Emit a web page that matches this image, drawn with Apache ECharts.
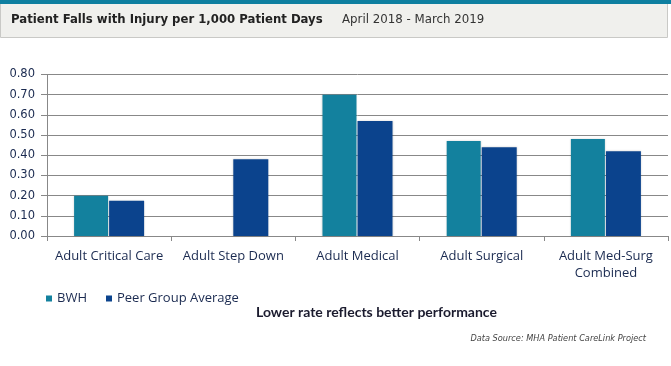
<!DOCTYPE html>
<html><head><meta charset="utf-8">
<script src="https://cdn.jsdelivr.net/npm/echarts@6/dist/echarts.min.js"></script>
<style>html,body{margin:0;padding:0;background:#fff}#c{width:671px;height:366px}</style>
</head><body><div id="c"></div>
<script>
var categories = ['Adult Critical Care', 'Adult Step Down', 'Adult Medical', 'Adult Surgical', 'Adult Med-Surg\nCombined'];
var bwh = [0.20, null, 0.70, 0.47, 0.48];
var peer = [0.175, 0.38, 0.57, 0.44, 0.42];
var yTicks = { min: 0, max: 0.8, interval: 0.1 };

var chart = echarts.init(document.getElementById('c'), null, { renderer: 'canvas' });
var barShadow = { shadowColor: 'rgba(0,0,0,0.18)', shadowBlur: 2 };
chart.setOption({
  animation: false,
  graphic: [
    { type: 'rect', shape: { x: 0.5, y: 2.5, width: 667, height: 35 }, style: { fill: '#f0f0ed', stroke: '#c9c9c6', lineWidth: 1 } },
    { type: 'rect', shape: { x: 0, y: 0, width: 671, height: 4 }, style: { fill: '#0e7fa0' } },
    { type: 'text', x: 11, y: 20, style: { text: 'Patient Falls with Injury per 1,000 Patient Days', font: 'bold 11.7px "DejaVu Sans", Verdana, sans-serif', fill: '#222', verticalAlign: 'middle' } },
    { type: 'text', x: 342, y: 20, style: { text: 'April 2018 - March 2019', font: '11.8px "DejaVu Sans", Verdana, sans-serif', fill: '#333', verticalAlign: 'middle' } },
    { type: 'text', x: 256, y: 312, style: { text: 'Lower rate reflects better performance', font: 'bold 14px Lato, sans-serif', fill: '#1b1b2e', verticalAlign: 'middle' } },
    { type: 'text', x: 646, y: 339, style: { text: 'Data Source: MHA Patient CareLink Project', font: 'italic 8.2px "DejaVu Sans", Verdana, sans-serif', fill: '#444', align: 'right', verticalAlign: 'middle' } }
  ],
  legend: {
    left: 46, top: 292, padding: 0,
    itemWidth: 6, itemHeight: 6, itemGap: 19,
    icon: 'rect',
    textStyle: { fontFamily: '"Open Sans", sans-serif', fontSize: 13, color: '#1a2a50' },
    data: ['BWH', 'Peer Group Average']
  },
  grid: { left: 47, right: 3, top: 74.5, bottom: 130, containLabel: false },
  xAxis: {
    type: 'category', data: categories,
    axisLine: { lineStyle: { color: '#888', width: 1 } },
    axisTick: { show: true, alignWithLabel: false, length: 5, lineStyle: { color: '#888' } },
    axisLabel: { margin: 12, fontFamily: '"Open Sans", sans-serif', fontSize: 13, color: '#1a2a50', lineHeight: 17, interval: 0 }
  },
  yAxis: {
    type: 'value', min: yTicks.min, max: yTicks.max, interval: yTicks.interval,
    axisLine: { show: true, lineStyle: { color: '#888' } },
    axisTick: { show: true, length: 6, lineStyle: { color: '#888' } },
    splitLine: { lineStyle: { color: '#888', width: 1 } },
    axisLabel: { margin: 12, fontFamily: '"DejaVu Sans", Verdana, sans-serif', fontSize: 11.5, color: '#1a2a50', formatter: function (v) { return v.toFixed(2); } }
  },
  series: [
    { name: 'BWH', type: 'bar', data: bwh, barWidth: 34, barGap: '3%', itemStyle: Object.assign({ color: '#13819e' }, barShadow) },
    { name: 'Peer Group Average', type: 'bar', data: peer, barWidth: 35, itemStyle: Object.assign({ color: '#0b438d' }, barShadow) }
  ]
});
</script></body></html>
